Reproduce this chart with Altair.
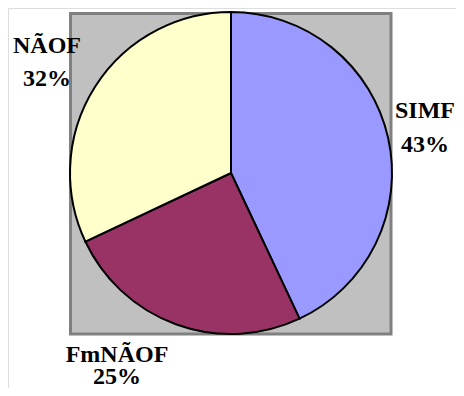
import altair as alt
import pandas as pd

categories = ["SIMF", "FmNÃOF", "NÃOF"]
values = [43, 25, 32]
colors = ["#9999FF", "#993366", "#FFFFCC"]

df = pd.DataFrame({"cat": categories, "val": values, "order": list(range(len(categories)))})
one = pd.DataFrame({"a": [0]})

W, H = 448, 380
cx, cy, R = 223, 165, 161

frame = alt.Chart(one).mark_rect(fill="#C0C0C0", stroke="#808080", strokeWidth=3).encode(
    x=alt.value(62.5), x2=alt.value(383), y=alt.value(5.5), y2=alt.value(326)
)

pie = alt.Chart(df).mark_arc(outerRadius=R, stroke="black", strokeWidth=2).encode(
    theta=alt.Theta("val:Q", stack=True),
    order=alt.Order("order:Q"),
    color=alt.Color("cat:N", scale=alt.Scale(domain=categories, range=colors), legend=None),
    x=alt.value(cx), y=alt.value(cy),
)

# label layout: (x, y_name_baseline, y_pct_baseline)
label_pos = {
    "SIMF": (417, 110, 144),
    "FmNÃOF": (109, 354, 376),
    "NÃOF": (39, 45, 78),
}

FONT = "Liberation Serif, DejaVu Serif, serif"

layers = [frame, pie]
for c, v in zip(categories, values):
    lx, y1, y2 = label_pos[c]
    for txt, yy in ((c, y1), (f"{v}%", y2)):
        layers.append(
            alt.Chart(one).mark_text(
                font=FONT, fontWeight="bold", fontSize=24,
                align="center", baseline="alphabetic", color="black"
            ).encode(x=alt.value(lx), y=alt.value(yy), text=alt.value(txt))
        )

chart = alt.layer(*layers).properties(
    width=W, height=H, autosize=alt.AutoSizeParams(type="none"), padding=0, background="white"
).configure_view(stroke=None).configure_text(font=FONT).configure(font=FONT)

chart.save("out.html", embed_options={"renderer": "svg", "actions": False})
